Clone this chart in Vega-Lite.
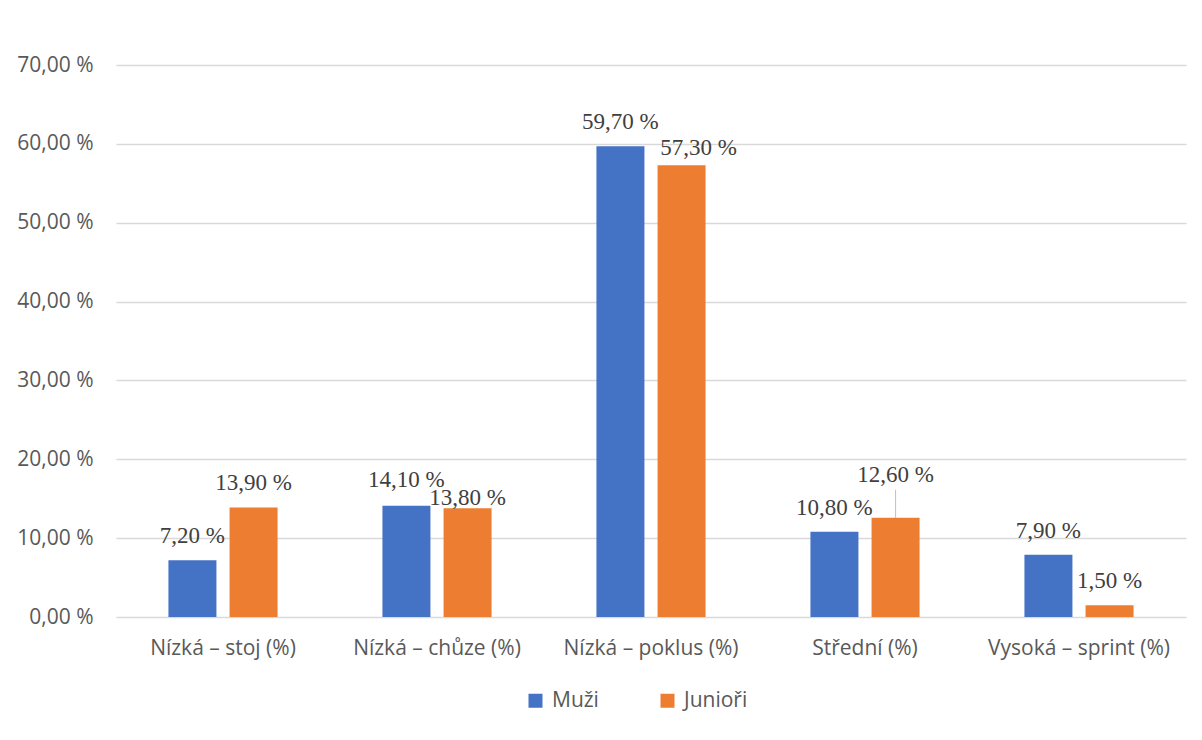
{
  "$schema": "https://vega.github.io/schema/vega-lite/v6.json",
  "width": 1070,
  "height": 552,
  "autosize": {"type": "none"},
  "padding": {"left": 116, "top": 65, "right": 16, "bottom": 123},
  "background": "white",
  "config": {
    "view": {"stroke": null},
    "font": "Open Sans",
    "locale": {"number": {"decimal": ",", "thousands": "\u00a0", "grouping": [3], "currency": ["", "\u00a0Kč"], "percent": " %"}}
  },
  "data": {
    "values": [
      {"kat": "Nízká – stoj (%)", "skupina": "Muži", "hodnota": 0.072},
      {"kat": "Nízká – stoj (%)", "skupina": "Junioři", "hodnota": 0.139},
      {"kat": "Nízká – chůze (%)", "skupina": "Muži", "hodnota": 0.141},
      {"kat": "Nízká – chůze (%)", "skupina": "Junioři", "hodnota": 0.138},
      {"kat": "Nízká – poklus (%)", "skupina": "Muži", "hodnota": 0.597},
      {"kat": "Nízká – poklus (%)", "skupina": "Junioři", "hodnota": 0.573},
      {"kat": "Střední (%)", "skupina": "Muži", "hodnota": 0.108},
      {"kat": "Střední (%)", "skupina": "Junioři", "hodnota": 0.126},
      {"kat": "Vysoká – sprint (%)", "skupina": "Muži", "hodnota": 0.079},
      {"kat": "Vysoká – sprint (%)", "skupina": "Junioři", "hodnota": 0.015}
    ]
  },
  "encoding": {
    "x": {
      "field": "kat", "type": "nominal",
      "sort": ["Nízká – stoj (%)", "Nízká – chůze (%)", "Nízká – poklus (%)", "Střední (%)", "Vysoká – sprint (%)"],
      "scale": {"paddingInner": 0.49, "paddingOuter": 0.245},
      "axis": {"title": null, "labelAngle": 0, "labelLimit": 0, "domain": false, "ticks": false, "tickSize": 0, "labelPadding": 20, "labelFontSize": 21, "labelColor": "#595959", "labelFont": "Open Sans", "grid": false}
    },
    "xOffset": {
      "field": "skupina", "type": "nominal", "sort": ["Muži", "Junioři"],
      "scale": {"paddingInner": 0.215, "paddingOuter": 0}
    },
    "y": {
      "field": "hodnota", "type": "quantitative",
      "scale": {"domain": [0, 0.7], "nice": false},
      "axis": {"title": null, "values": [0, 0.1, 0.2, 0.3, 0.4, 0.5, 0.6, 0.7], "format": ".2%", "domain": false, "ticks": false, "tickSize": 0, "labelPadding": 23, "labelFontSize": 21, "labelColor": "#595959", "labelFont": "Open Sans", "gridColor": "#d9d9d9", "gridWidth": 1.5}
    }
  },
  "layer": [
    {
      "mark": {"type": "bar"},
      "encoding": {
        "color": {
          "field": "skupina", "type": "nominal",
          "scale": {"domain": ["Muži", "Junioři"], "range": ["#4472C4", "#ED7D31"]},
          "legend": {"title": null, "orient": "none", "legendX": 409, "legendY": 625, "direction": "horizontal", "symbolType": "square", "symbolSize": 196, "symbolStrokeWidth": 0, "labelFontSize": 21, "labelColor": "#595959", "labelFont": "Open Sans", "labelOffset": 6, "columnPadding": 58}
        }
      }
    },
    {
      "transform": [{"filter": "datum.kat == 'Střední (%)' && datum.skupina == 'Junioři'"}],
      "mark": {"type": "tick", "orient": "vertical", "size": 28, "thickness": 1, "color": "#a6a6a6", "yOffset": -14},
      "encoding": {}
    },
    {
      "transform": [{"filter": "!((datum.kat == 'Nízká – chůze (%)') || (datum.kat == 'Nízká – poklus (%)' && datum.skupina == 'Junioři') || (datum.kat == 'Střední (%)' && datum.skupina == 'Junioři'))"}],
      "mark": {"type": "text", "baseline": "alphabetic", "dy": -17, "font": "Liberation Serif", "fontSize": 23, "color": "#404040"},
      "encoding": {"text": {"field": "hodnota", "type": "quantitative", "format": ".2%"}}
    },
    {
      "transform": [{"filter": "datum.kat == 'Nízká – chůze (%)' && datum.skupina == 'Muži'"}],
      "mark": {"type": "text", "baseline": "alphabetic", "dy": -19, "font": "Liberation Serif", "fontSize": 23, "color": "#404040"},
      "encoding": {"text": {"field": "hodnota", "type": "quantitative", "format": ".2%"}}
    },
    {
      "transform": [{"filter": "datum.kat == 'Nízká – chůze (%)' && datum.skupina == 'Junioři'"}],
      "mark": {"type": "text", "baseline": "alphabetic", "dy": -3, "font": "Liberation Serif", "fontSize": 23, "color": "#404040"},
      "encoding": {"text": {"field": "hodnota", "type": "quantitative", "format": ".2%"}}
    },
    {
      "transform": [{"filter": "datum.kat == 'Nízká – poklus (%)' && datum.skupina == 'Junioři'"}],
      "mark": {"type": "text", "baseline": "alphabetic", "dy": -10, "dx": 17, "font": "Liberation Serif", "fontSize": 23, "color": "#404040"},
      "encoding": {"text": {"field": "hodnota", "type": "quantitative", "format": ".2%"}}
    },
    {
      "transform": [{"filter": "datum.kat == 'Střední (%)' && datum.skupina == 'Junioři'"}],
      "mark": {"type": "text", "baseline": "alphabetic", "dy": -36, "font": "Liberation Serif", "fontSize": 23, "color": "#404040"},
      "encoding": {"text": {"field": "hodnota", "type": "quantitative", "format": ".2%"}}
    }
  ]
}
